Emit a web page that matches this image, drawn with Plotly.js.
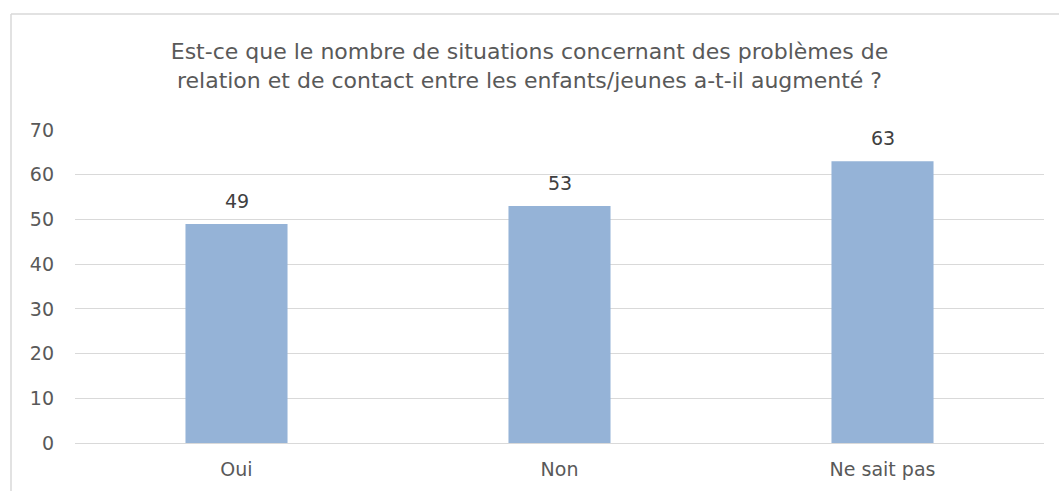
<!DOCTYPE html>
<html>
<head>
<meta charset="utf-8">
<script src="https://cdn.plot.ly/plotly-3.0.1.min.js"></script>
<style>html,body{margin:0;padding:0;background:#fff;}#chart{width:1059px;height:491px;}</style>
</head>
<body>
<div id="chart"></div>
<script>
var categories = ["Oui", "Non", "Ne sait pas"];
var values = [49, 53, 63];
var yTicks = [0, 10, 20, 30, 40, 50, 60, 70];
var titleText = "Est-ce que le nombre de situations concernant des problèmes de<br>relation et de contact entre les enfants/jeunes a-t-il augmenté ?";

var FONT = "DejaVu Sans, sans-serif";

var trace = {
  type: "bar",
  x: categories,
  y: values,
  marker: {color: "#95B3D7"},
  hoverinfo: "x+y"
};

var annotations = categories.map(function (c, i) {
  return {
    x: c, y: values[i], xref: "x", yref: "y",
    text: String(values[i]), showarrow: false,
    yanchor: "middle", yshift: 23,
    font: {family: FONT, size: 19, color: "#404040"}
  };
});

var layout = {
  width: 1059, height: 491,
  margin: {l: 75, r: 15, t: 130, b: 48, pad: 0},
  paper_bgcolor: "#ffffff", plot_bgcolor: "#ffffff",
  showlegend: false,
  bargap: 0.684,
  title: {
    text: titleText,
    x: 0.5, xref: "container", xanchor: "center",
    y: 1 - 59 / 491, yref: "container", yanchor: "top",
    font: {family: FONT, size: 22, color: "#595959", lineposition: "none"}
  },
  xaxis: {
    type: "category",
    showgrid: false, zeroline: false, showline: false, ticks: "",
    ticklabelstandoff: 13,
    tickfont: {family: FONT, size: 19, color: "#595959"}
  },
  yaxis: {
    range: [0, 70], tickvals: yTicks, ticktext: yTicks.map(String),
    showgrid: true, gridcolor: "#D9D9D9", gridwidth: 1.3,
    zeroline: true, zerolinecolor: "#D9D9D9", zerolinewidth: 1.3,
    showline: false, ticks: "",
    ticklabelstandoff: 20,
    tickfont: {family: FONT, size: 19, color: "#595959"}
  },
  annotations: annotations,
  shapes: [
    {type: "line", xref: "paper", yref: "paper",
     x0: (11 - 75) / 969, x1: (1059 - 75) / 969, y0: (443.3 - 14) / 313.3, y1: (443.3 - 14) / 313.3,
     line: {color: "#D9D9D9", width: 1.5}},
    {type: "line", xref: "paper", yref: "paper",
     x0: (11 - 75) / 969, x1: (11 - 75) / 969, y0: (443.3 - 14) / 313.3, y1: (443.3 - 495) / 313.3,
     line: {color: "#D9D9D9", width: 1.5}}
  ]
};

Plotly.newPlot("chart", [trace], layout, {displayModeBar: false, staticPlot: false});
</script>
</body>
</html>
